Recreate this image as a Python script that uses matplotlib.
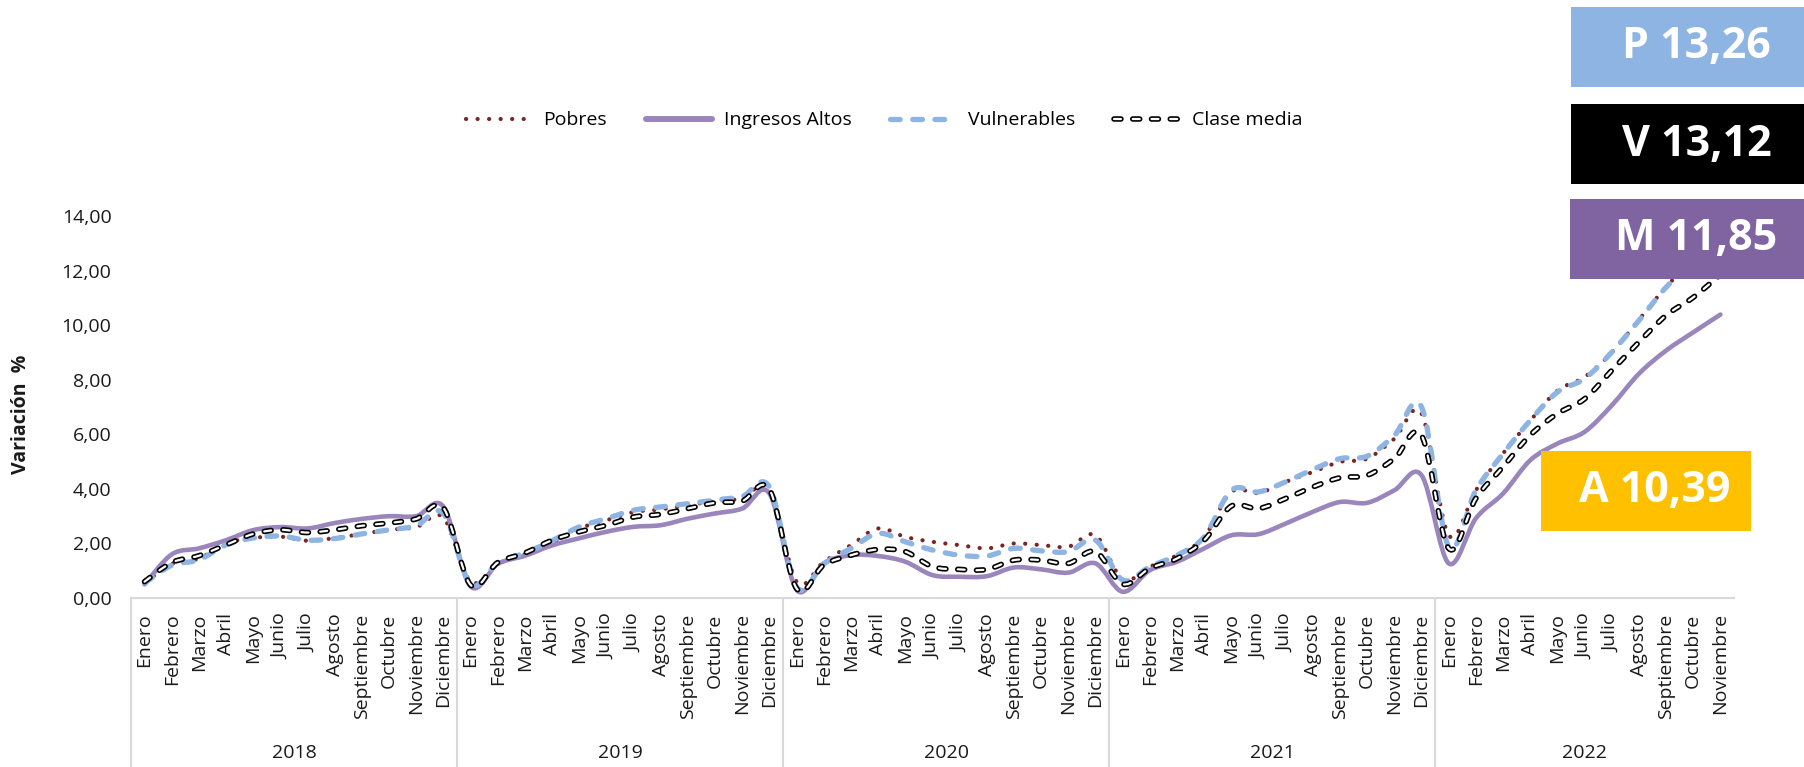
import numpy as np
import matplotlib
matplotlib.use("Agg")
import matplotlib.pyplot as plt
import matplotlib.patheffects as pe
from matplotlib.path import Path
from matplotlib.patches import PathPatch, Rectangle
from matplotlib.lines import Line2D

plt.rcParams['font.family'] = ['Open Sans', 'DejaVu Sans']
plt.rcParams['lines.scale_dashes'] = False

# --- data -------------------------------------------------------------------
meses = ['Enero', 'Febrero', 'Marzo', 'Abril', 'Mayo', 'Junio', 'Julio',
         'Agosto', 'Septiembre', 'Octubre', 'Noviembre', 'Diciembre']
anios = ['2018', '2019', '2020', '2021', '2022']
meses_por_anio = [12, 12, 12, 12, 11]

pobres = [0.55, 1.25, 1.45, 2.00, 2.20, 2.25, 2.10, 2.20, 2.35, 2.50, 2.60, 2.95,
          0.60, 1.25, 1.60, 2.00, 2.55, 2.85, 3.15, 3.25, 3.40, 3.55, 3.65, 4.00,
          0.60, 1.33, 1.94, 2.55, 2.24, 2.06, 1.94, 1.82, 2.00, 1.94, 1.88, 2.30,
          0.68, 1.15, 1.57, 2.24, 3.89, 3.85, 4.26, 4.62, 4.99, 5.11, 5.84, 6.76,
          2.30, 3.95, 5.30, 6.50, 7.60, 8.10, 9.00, 10.20, 11.40, 12.40, 13.26]

ingresos_altos = [0.50, 1.60, 1.82, 2.12, 2.49, 2.60, 2.55, 2.75, 2.90, 3.00, 3.00, 3.35,
                  0.43, 1.25, 1.55, 1.93, 2.19, 2.43, 2.61, 2.67, 2.91, 3.10, 3.28, 3.83,
                  0.30, 1.27, 1.57, 1.54, 1.33, 0.84, 0.78, 0.80, 1.12, 1.05, 0.93, 1.27,
                  0.23, 1.02, 1.33, 1.82, 2.30, 2.34, 2.73, 3.16, 3.52, 3.49, 3.95, 4.50,
                  1.27, 2.92, 3.83, 5.05, 5.66, 6.09, 7.06, 8.22, 9.07, 9.74, 10.39]

vulnerables = [0.55, 1.20, 1.40, 1.95, 2.20, 2.27, 2.12, 2.18, 2.35, 2.50, 2.65, 3.10,
               0.50, 1.30, 1.65, 2.10, 2.61, 2.91, 3.22, 3.34, 3.46, 3.59, 3.73, 4.07,
               0.40, 1.25, 1.82, 2.37, 2.06, 1.76, 1.57, 1.54, 1.82, 1.73, 1.70, 2.12,
               0.66, 1.15, 1.57, 2.24, 3.95, 3.89, 4.26, 4.71, 5.11, 5.20, 5.96, 7.00,
               1.88, 3.95, 5.29, 6.51, 7.55, 8.04, 9.01, 10.17, 11.39, 12.30, 13.12]

clase_media = [0.60, 1.30, 1.55, 1.95, 2.35, 2.50, 2.40, 2.50, 2.65, 2.75, 2.90, 3.30,
               0.48, 1.30, 1.65, 2.12, 2.43, 2.67, 2.97, 3.07, 3.28, 3.49, 3.56, 3.98,
               0.35, 1.21, 1.57, 1.78, 1.70, 1.15, 1.05, 1.05, 1.39, 1.39, 1.27, 1.70,
               0.51, 1.09, 1.45, 2.12, 3.37, 3.28, 3.65, 4.07, 4.41, 4.50, 5.11, 5.96,
               1.82, 3.65, 4.81, 5.97, 6.76, 7.30, 8.34, 9.38, 10.36, 11.02, 11.85]

etiquetas_mes = [m for n in meses_por_anio for m in meses[:n]]
x = np.arange(len(etiquetas_mes))


def fmt_coma(v):
    return f'{v:.2f}'.replace('.', ',')


def smooth_path(xs, ys):
    # bezier segments like Excel's "smoothed line"
    pts = np.column_stack([xs, ys]).astype(float)
    n = len(pts)
    verts = [pts[0]]
    codes = [Path.MOVETO]
    for i in range(n - 1):
        p0 = pts[max(i - 1, 0)]
        p1 = pts[i]
        p2 = pts[i + 1]
        p3 = pts[min(i + 2, n - 1)]
        verts += [p1 + (p2 - p0) / 6, p2 - (p3 - p1) / 6, p2]
        codes += [Path.CURVE4] * 3
    return Path(verts, codes)


estilos = [
    ('Pobres', pobres, dict(edgecolor='#7B2525', linewidth=3.0, linestyle=(0, (0.1, 8.2)))),
    ('Ingresos Altos', ingresos_altos, dict(edgecolor='#9A86BC', linewidth=3.3, linestyle='-')),
    ('Vulnerables', vulnerables, dict(edgecolor='#8DB4E2', linewidth=3.8, linestyle=(0, (7, 9)))),
    ('Clase media', clase_media, dict(edgecolor='white', linewidth=1.6, linestyle=(0, (5, 8.5)),
                                      path_effects=[pe.Stroke(linewidth=4.0, foreground='black'),
                                                    pe.Normal()])),
]

fig = plt.figure(figsize=(18.04, 7.67), dpi=100)
ax = fig.add_axes([0.0726, 0.2203, 0.8886, 0.498])

handles = []
for nombre, serie, st in estilos:
    patch = PathPatch(smooth_path(x, serie), fill=False, capstyle='round',
                      joinstyle='round', transform=ax.transData, **st)
    ax.add_patch(patch)
    h = Line2D([], [], color=st['edgecolor'], linewidth=st['linewidth'] * (1.3 if nombre == 'Ingresos Altos' else 1),
               linestyle=st['linestyle'], dash_capstyle='round', solid_capstyle='round',
               path_effects=st.get('path_effects', []))
    handles.append(h)

ax.set_xlim(-0.5, len(x) - 0.5)
ax.set_ylim(0, 14)
ax.set_yticks(np.arange(0, 15, 2))
ax.set_yticklabels([fmt_coma(v) for v in np.arange(0, 15, 2)])
ax.set_xticks(x)
ax.set_xticklabels(etiquetas_mes, rotation=90, va='top', ha='center')
ax.tick_params(axis='y', length=0, pad=14, labelsize=14, labelcolor='#1a1a1a')
ax.tick_params(axis='x', length=0, pad=11, labelsize=14, labelcolor='#1a1a1a')

for s in ['top', 'right', 'left']:
    ax.spines[s].set_visible(False)
ax.spines['bottom'].set_color('#D9D9D9')
ax.spines['bottom'].set_linewidth(1.5)

fig.text(21 / 1804, 1 - 414 / 767, 'Variación  %', rotation=90, ha='center', va='center',
         fontsize=14, fontweight='bold', color='#1a1a1a')

# year groups under the month labels
trans = ax.get_xaxis_transform()
inicio = -0.5
for anio, n in zip(anios, meses_por_anio):
    ax.plot([inicio, inicio], [0, -0.45], transform=trans, color='#D9D9D9',
            lw=1.5, clip_on=False)
    ax.text(inicio + n / 2, -0.405, anio, transform=trans, ha='center', va='center',
            fontsize=14, color='#1a1a1a')
    inicio += n

fig.legend(handles, [e[0] for e in estilos], loc='center', bbox_to_anchor=(0.49, 0.843),
           ncol=4, frameon=False, fontsize=14, handlelength=3.4, handletextpad=0.6,
           columnspacing=2.0)

# end-value badges
W, H = 1804.0, 767.0
badges = [
    ('P', pobres[-1], '#8DB4E2', (1571, 7, 1804, 87)),
    ('V', vulnerables[-1], '#000000', (1571, 104, 1804, 184)),
    ('M', clase_media[-1], '#8064A2', (1570, 199, 1804, 279)),
    ('A', ingresos_altos[-1], '#FFC000', (1541, 451, 1751, 531)),
]
for letra, valor, color, (x0, y0, x1, y1) in badges:
    fig.patches.append(Rectangle((x0 / W, 1 - y1 / H), (x1 - x0) / W, (y1 - y0) / H,
                                 transform=fig.transFigure, facecolor=color,
                                 edgecolor='none', zorder=5))
    fig.text(((x0 + x1) / 2 + 9) / W, 1 - ((y0 + y1) / 2) / H, f'{letra} {fmt_coma(valor)}',
             ha='center', va='center', color='white', fontsize=31, fontweight='bold',
             zorder=6)

fig.savefig('out.png', dpi=100)
